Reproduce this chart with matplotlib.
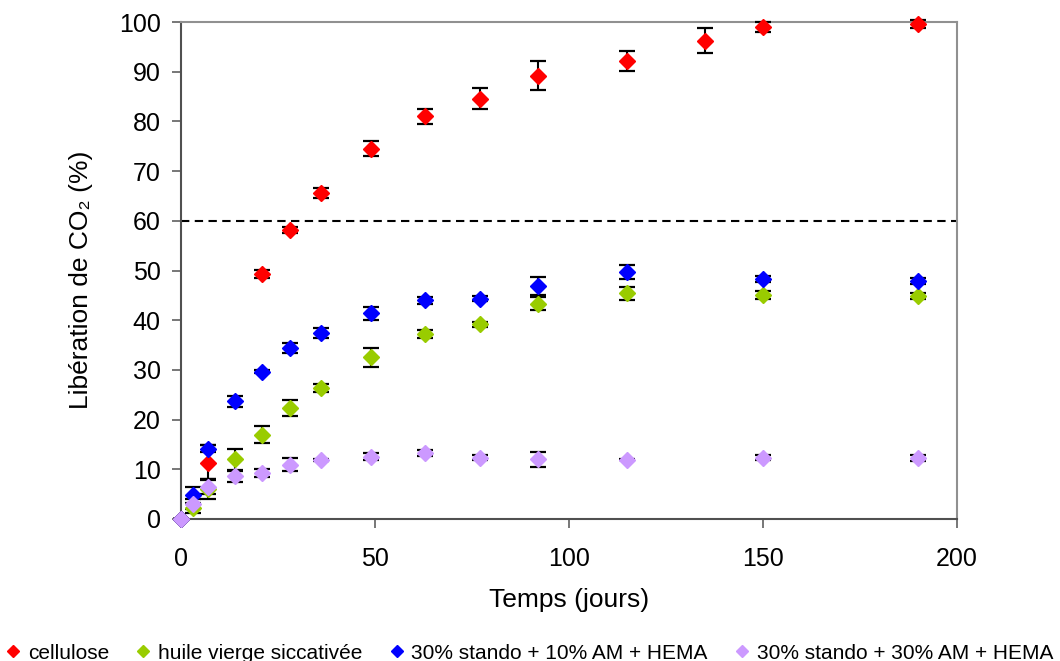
import matplotlib
matplotlib.use("Agg")
import matplotlib.pyplot as plt
from matplotlib.lines import Line2D

plt.rcParams['font.family'] = ['Liberation Sans', 'DejaVu Sans']

days = [0, 3, 7, 14, 21, 28, 36, 49, 63, 77, 92, 115, 150, 190]
days_cell = [0, 7, 21, 28, 36, 49, 63, 77, 92, 115, 135, 150, 190]

cellulose = [0, 11.3, 49.3, 58.2, 65.5, 74.5, 81.0, 84.6, 89.2, 92.2, 96.2, 98.9, 99.6]
cellulose_err = [0, 3.5, 0.8, 0.6, 1.0, 1.5, 1.5, 2.2, 2.9, 2.0, 2.5, 1.0, 0.8]

huile = [0, 2.2, 6.0, 12.0, 17.0, 22.3, 26.4, 32.5, 37.2, 39.2, 43.3, 45.4, 45.1, 44.9]
huile_err = [0, 1.0, 2.0, 2.1, 1.7, 1.6, 0.8, 2.0, 0.8, 0.5, 1.3, 1.3, 0.8, 0.6]

stando10 = [0, 4.8, 14.1, 23.7, 29.6, 34.5, 37.4, 41.4, 44.0, 44.3, 46.9, 49.7, 48.2, 47.9]
stando10_err = [0, 1.7, 0.7, 1.1, 0.3, 1.0, 1.0, 1.3, 0.7, 0.5, 1.8, 1.5, 0.6, 0.6]

stando30 = [0, 3.0, 6.5, 8.6, 9.3, 10.9, 11.9, 12.5, 13.2, 12.3, 12.0, 11.9, 12.3, 12.3]
stando30_err = [0, 1.0, 1.5, 1.1, 0.8, 1.3, 0.2, 0.7, 0.6, 0.5, 1.5, 0.1, 0.5, 0.6]

labels = ["cellulose", "huile vierge siccativée",
          "30% stando + 10% AM + HEMA", "30% stando + 30% AM + HEMA"]
colors = ["#FF0000", "#99CC00", "#0000FF", "#CC99FF"]
threshold = 60

fig = plt.figure(figsize=(10.6, 6.61), dpi=100)
ax = fig.add_axes([181/1060, 1-519/661, (957-181)/1060, (519-22)/661])

series = [(days_cell, cellulose, cellulose_err),
          (days, huile, huile_err),
          (days, stando10, stando10_err),
          (days, stando30, stando30_err)]

for (x, y, e), c, lab in zip(series, colors, labels):
    ax.errorbar(x, y, yerr=e, fmt='D', color=c, ms=7.8, mec=c,
                ecolor='black', elinewidth=1.5, capsize=5.5, capthick=1.6,
                clip_on=False, zorder=3)

ax.axhline(threshold, color='black', lw=1.5, ls=(0, (4, 2.6)), zorder=2)

ax.set_xlim(0, 200)
ax.set_ylim(0, 100)
ax.set_xticks([0, 50, 100, 150, 200])
ax.set_yticks(range(0, 101, 10))

for s in ['left', 'bottom']:
    ax.spines[s].set_color('#505050')
    ax.spines[s].set_linewidth(1.5)
for s in ['top', 'right']:
    ax.spines[s].set_color('#909090')
    ax.spines[s].set_linewidth(1.5)

ax.tick_params(axis='both', direction='out', length=6.5, width=1.2,
               color='#606060', labelsize=18)
ax.tick_params(axis='x', pad=14)
ax.tick_params(axis='y', pad=8)

ax.set_xlabel("Temps (jours)", fontsize=19, labelpad=12)
ax.set_ylabel("Libération de CO₂ (%)", fontsize=19)
ax.yaxis.set_label_coords(-0.114, 0.482)

handles = [Line2D([], [], marker='D', ls='none', color=c, ms=6) for c in colors]
fig.legend(handles, labels, loc='center', bbox_to_anchor=(0.5, 0.012),
           ncol=4, frameon=False, fontsize=15, handlelength=0.6,
           handletextpad=0.4, columnspacing=1.35, borderaxespad=0)

fig.savefig("out.png", dpi=100)
